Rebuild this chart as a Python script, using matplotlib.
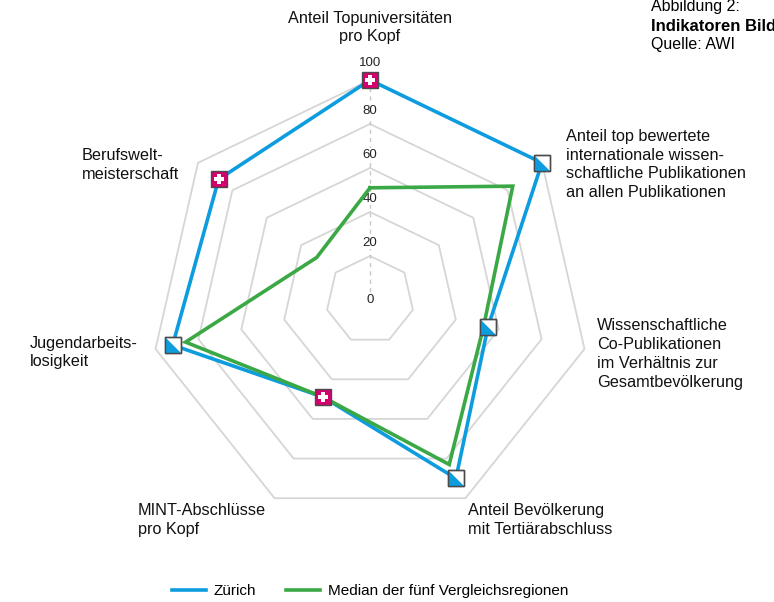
import numpy as np
import matplotlib
matplotlib.use('Agg')
import matplotlib.pyplot as plt
from matplotlib.lines import Line2D

plt.rcParams['font.family'] = ['Liberation Sans', 'DejaVu Sans']

# ***** datos
categorias = [
    'Anteil Topuniversitäten\npro Kopf',
    'Anteil top bewertete\ninternationale wissen-\nschaftliche Publikationen\nan allen Publikationen',
    'Wissenschaftliche\nCo-Publikationen\nim Verhältnis zur\nGesamtbevölkerung',
    'Anteil Bevölkerung\nmit Tertiärabschluss',
    'MINT-Abschlüsse\npro Kopf',
    'Jugendarbeits-\nlosigkeit',
    'Berufswelt-\nmeisterschaft',
]
zuerich = [100, 100, 55, 90, 49, 92, 88]
median = [51, 83, 53, 83, 49, 86, 31]
# True = Zürich bester Wert (Schweizer Kreuz)
zuerich_bester = [True, False, False, False, True, False, True]
ringe = [20, 40, 60, 80, 100]
tick_werte = [0, 20, 40, 60, 80, 100]

BLAU = '#0d9ddf'
GRUEN = '#3aa845'
PINK = '#d4006e'
GRAU = '#d6d6d6'

# ***** figura
W, H = 774, 602
fig = plt.figure(figsize=(W / 100, H / 100), dpi=100)
cx, cy, R = 370, 300, 220
ax = fig.add_axes([(cx - R) / W, (H - cy - R) / H, 2 * R / W, 2 * R / H], projection='polar')
ax.set_theta_zero_location('N')
ax.set_theta_direction(-1)
ax.set_ylim(0, 100)
ax.axis('off')

n = len(categorias)
theta = np.arange(n) * 2 * np.pi / n
theta_c = np.append(theta, theta[0])

# anillos heptagonales
for r in ringe:
    ax.plot(theta_c, [r] * (n + 1), color=GRAU, lw=1.3, zorder=1, clip_on=False)

# eje superior punteado
ax.plot([0, 0], [0, 100], color='#c8c8c8', lw=1.0, ls=(0, (3, 3)), zorder=1)

# etiquetas de escala
for v in tick_werte:
    rr = v + 6 if v > 0 else 0
    if v == 100:
        rr = v + 7.5
    ax.text(0, rr, str(v), ha='center', va='center', fontsize=9.5, color='#222222', zorder=2,
            bbox=dict(facecolor='white', edgecolor='none', pad=0.5))

# series
z = np.append(zuerich, zuerich[0])
m = np.append(median, median[0])
ax.plot(theta_c, z, color=BLAU, lw=2.6, zorder=3, clip_on=False, solid_joinstyle='miter')
ax.plot(theta_c, m, color=GRUEN, lw=2.6, zorder=4, clip_on=False, solid_joinstyle='miter')

# marcadores
tri = [(-1, -1), (1, -1), (-1, 1), (-1, -1)]
for t, v, best in zip(theta, zuerich, zuerich_bester):
    if best:
        ax.plot(t, v, marker='s', ms=12, mfc=PINK, mec='#4a4a4a', mew=1.0, zorder=6, clip_on=False)
        ax.plot(t, v, marker='P', ms=7.5, mfc='white', mec='white', mew=0, zorder=7, clip_on=False)
    else:
        ax.plot(t, v, marker='s', ms=12, mfc='white', mec='#4a4a4a', mew=1.0, zorder=6, clip_on=False)
        ax.plot(t, v, marker=tri, ms=11, mfc=BLAU, mec='none', mew=0, zorder=7, clip_on=False)
        ax.plot(t, v, marker='s', ms=12, mfc='none', mec='#4a4a4a', mew=1.0, zorder=8, clip_on=False)

# etiquetas de categorías
pos = [(370, 27.5, 'center'), (566, 164.5, 'left'), (597, 354, 'left'), (468, 520, 'left'),
       (138, 520, 'left'), (30, 352.5, 'left'), (82, 165, 'left')]
for txt, (x, y, ha) in zip(categorias, pos):
    fig.text(x / W, 1 - y / H, txt, ha=ha, va='center', multialignment=ha,
             fontsize=11.7, linespacing=1.33, color='#111111')

# título
fig.text(651 / W, 1 - 7 / H, 'Abbildung 2:', ha='left', va='center', fontsize=11.5)
fig.text(651 / W, 1 - 26 / H, 'Indikatoren Bildung', ha='left', va='center', fontsize=12,
         fontweight='bold')
fig.text(651 / W, 1 - 45 / H, 'Quelle: AWI', ha='left', va='center', fontsize=11.5)

# leyenda
handles = [Line2D([], [], color=BLAU, lw=2.6), Line2D([], [], color=GRUEN, lw=2.6)]
fig.legend(handles, ['Zürich', 'Median der fünf Vergleichsregionen'], loc='center',
           bbox_to_anchor=(370 / W, 1 - 591 / H), ncol=2, frameon=False, fontsize=11,
           handlelength=2.2, handletextpad=0.5, columnspacing=2.0)

fig.savefig('out.png', dpi=100)
